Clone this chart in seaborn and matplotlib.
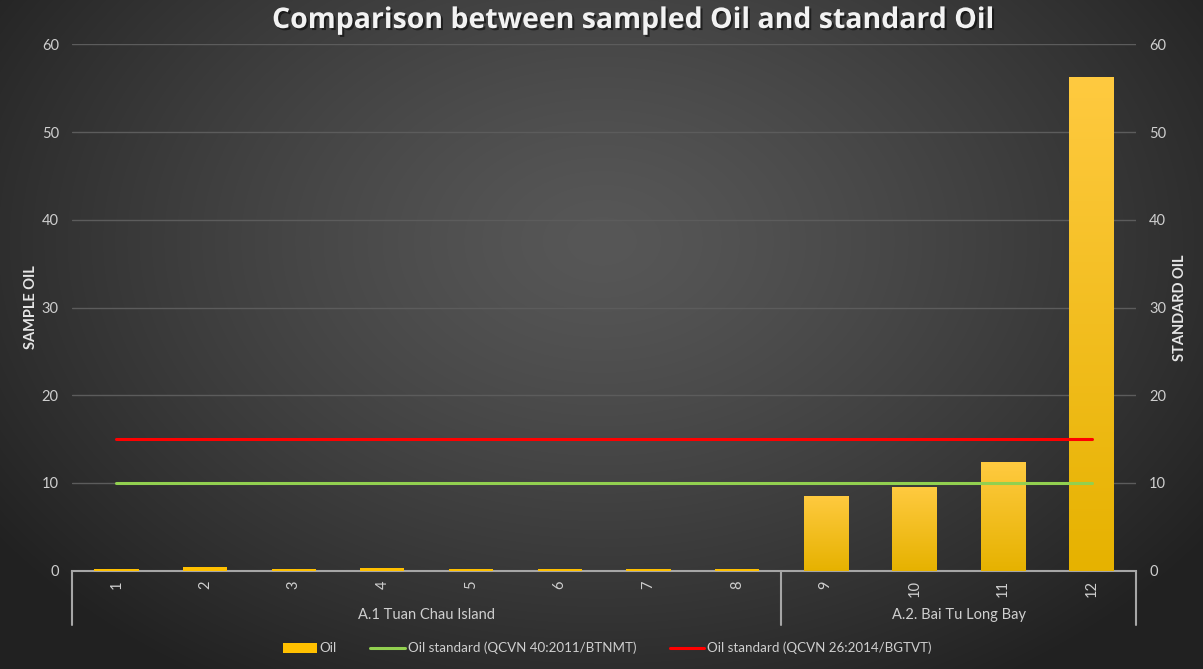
import numpy as np
import pandas as pd
import matplotlib
matplotlib.use("Agg")
import matplotlib.pyplot as plt
import seaborn as sns
from matplotlib.lines import Line2D
from matplotlib.patches import Patch
import matplotlib.patheffects as pe

# ---------------- data ----------------
samples = ["1", "2", "3", "4", "5", "6", "7", "8", "9", "10", "11", "12"]
group_names = ["A.1 Tuan Chau Island", "A.2. Bai Tu Long Bay"]
group_sizes = [8, 4]
oil = [0.2, 0.45, 0.2, 0.3, 0.2, 0.2, 0.2, 0.2, 8.55, 9.5, 12.35, 56.3]
std_40 = [10, 10, 10, 10, 10, 10, 10, 10, 10, 10, 10, 10]
std_26 = [15, 15, 15, 15, 15, 15, 15, 15, 15, 15, 15, 15]
y_ticks = [0, 10, 20, 30, 40, 50, 60]

title = "Comparison between sampled Oil and standard Oil"
left_label = "SAMPLE OIL"
right_label = "STANDARD OIL"
legend_labels = ["Oil", "Oil standard (QCVN 40:2011/BTNMT)", "Oil standard (QCVN 26:2014/BGTVT)"]

# ---------------- style ----------------
sns.set_theme(style="dark")
plt.rcParams["font.family"] = ["Lato", "DejaVu Sans"]
TXT = "#cfcfcf"
AXC = "#a6a6a6"
BAR = "#FFC000"
GREEN = "#92D050"
RED = "#FF0000"

W, H = 1203, 669
fig = plt.figure(figsize=(W / 100, H / 100), dpi=100)

# background radial gradient
bg = fig.add_axes([0, 0, 1, 1], zorder=0)
bg.axis("off")
yy, xx = np.mgrid[0:H, 0:W]
r = np.sqrt(((xx - 0.5 * W) / (0.62 * W)) ** 2 + ((yy - 0.36 * H) / (0.78 * H)) ** 2)
t = np.clip(r, 0, 1) ** 1.3
c0 = np.array([0x57, 0x57, 0x57]) / 255
c1 = np.array([0x21, 0x21, 0x21]) / 255
img = c0 + (c1 - c0) * t[..., None]
bg.imshow(img, aspect="auto", extent=[0, 1, 0, 1])
bg.set_xlim(0, 1)
bg.set_ylim(0, 1)

x0, x1 = 72, 1136
y_top, y_bot = 44.3, 570.7
ax = fig.add_axes([x0 / W, 1 - y_bot / H, (x1 - x0) / W, (y_bot - y_top) / H], zorder=1)
ax.patch.set_alpha(0)

df = pd.DataFrame({"Sample": samples, "Oil": oil, "std40": std_40, "std26": std_26})
sns.barplot(data=df, x="Sample", y="Oil", color=BAR, width=0.5, saturation=1,
            linewidth=0, ax=ax, zorder=5)
sns.lineplot(data=df, x="Sample", y="std40", color=GREEN, lw=2.2, ax=ax, zorder=6, sort=False)
sns.lineplot(data=df, x="Sample", y="std26", color=RED, lw=2.2, ax=ax, zorder=6, sort=False)

# per-bar vertical gradient
grad = np.linspace(0, 1, 256)[:, None]
top_c = np.array([0xFF, 0xCA, 0x40]) / 255
bot_c = np.array([0xE6, 0xB2, 0x00]) / 255
gimg = top_c + (bot_c - top_c) * grad[..., None]
gimg = np.repeat(gimg, 2, axis=1)
for p in list(ax.patches):
    bx, by = p.get_x(), p.get_y()
    bw, bh = p.get_width(), p.get_height()
    if bh <= 1.0:
        continue
    im = ax.imshow(gimg, extent=[bx, bx + bw, by, by + bh], aspect="auto",
                   zorder=5.1, origin="upper")
    im.set_clip_path(p)

ax.set_xlim(-0.5, 11.5)
ax.set_ylim(0, 60)
ax.set_yticks(y_ticks)
ax.set_yticklabels([str(v) for v in y_ticks])
ax.yaxis.grid(True, color="#5c5c5c", lw=1)
ax.xaxis.grid(False)
ax.set_axisbelow(True)
for s in ["top", "left", "right"]:
    ax.spines[s].set_visible(False)
ax.spines["bottom"].set_color(AXC)
ax.spines["bottom"].set_linewidth(1.5)
ax.spines["bottom"].set_zorder(4)

ax.tick_params(axis="y", length=0, pad=9.5, labelsize=10.5, labelcolor=TXT)
ax.tick_params(axis="x", length=0, pad=7, labelsize=10.5, labelcolor=TXT, labelrotation=90)
ax.set_xlabel("")
ax.set_ylabel(left_label, fontsize=10.5, fontweight="bold", color="#e6e6e6", labelpad=3)

ax2 = ax.twinx()
ax2.set_ylim(0, 60)
ax2.set_yticks(y_ticks)
ax2.set_yticklabels([str(v) for v in y_ticks])
ax2.tick_params(axis="y", length=0, pad=9.5, labelsize=10.5, labelcolor=TXT)
for s in ax2.spines.values():
    s.set_visible(False)
ax2.grid(False)
ax2.set_ylabel(right_label, fontsize=10.5, fontweight="bold", color="#e6e6e6", labelpad=5)

# two-level category axis: separators and group labels
trans = ax.get_xaxis_transform()
y_sep = (y_bot - 625) / (y_bot - y_top)
y_grp = (y_bot - 615) / (y_bot - y_top)
bounds = [-0.5]
for n in group_sizes:
    bounds.append(bounds[-1] + n)
for b in bounds:
    ax.plot([b, b], [0, y_sep], transform=trans, color=AXC, lw=1.5, clip_on=False, zorder=4)
for name, a, b in zip(group_names, bounds[:-1], bounds[1:]):
    ax.text((a + b) / 2, y_grp, name, transform=trans, ha="center", va="center",
            fontsize=10.5, color=TXT)

# title
fig.text(633.5 / W, 1 - 20.5 / H, title, ha="center", va="center", fontsize=20.5,
         fontweight="bold", color="#f2f2f2", family=["Open Sans", "DejaVu Sans"],
         path_effects=[pe.withSimplePatchShadow(offset=(1.5, -1.5), shadow_rgbFace="black", alpha=0.5)])

# legend
handles = [Patch(facecolor=BAR, edgecolor="none"),
           Line2D([0], [0], color=GREEN, lw=2.2),
           Line2D([0], [0], color=RED, lw=2.2)]
leg = fig.legend(handles, legend_labels, loc="center", bbox_to_anchor=(607 / W, 1 - 648 / H),
                 ncol=3, frameon=False, fontsize=9.6, handlelength=2.6, handletextpad=0.2,
                 columnspacing=2.5, handleheight=0.75)
for txt in leg.get_texts():
    txt.set_color(TXT)

fig.savefig("out.png", dpi=100)
